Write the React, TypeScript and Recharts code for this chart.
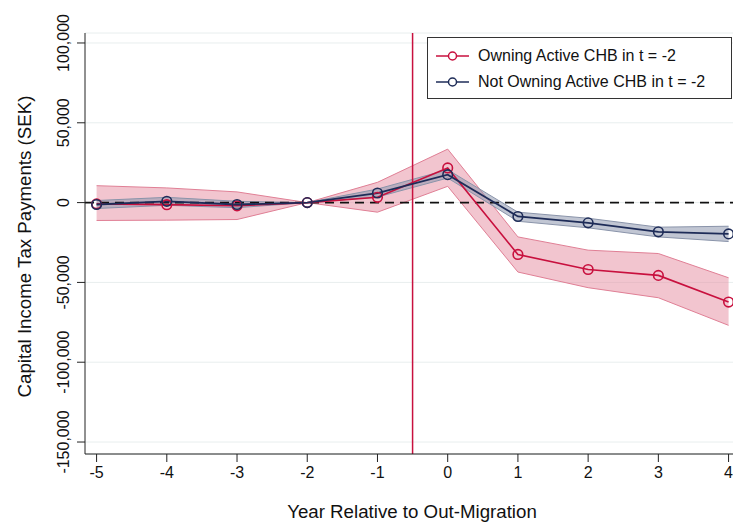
import React from 'react';
import { ComposedChart, Area, Line, XAxis, YAxis, CartesianGrid, ReferenceLine, Label } from 'recharts';

const years = [-5, -4, -3, -2, -1, 0, 1, 2, 3, 4];
const ownMean = [-800, -1300, -2000, 0, 3300, 21700, -32500, -41900, -45600, -62300];
const ownLo = [-11200, -11000, -10600, 0, -6000, 10200, -43500, -53300, -59600, -76900];
const ownHi = [10600, 9200, 6700, 0, 12700, 33500, -21500, -29800, -31900, -47100];
const notMean = [-1200, 800, -1200, 0, 6000, 17500, -8700, -12700, -18300, -19600];
const notLo = [-3700, -1700, -3200, 0, 3500, 15400, -11700, -15800, -21500, -24400];
const notHi = [1300, 3300, 800, 0, 8500, 20600, -6000, -9800, -15400, -14800];
const yTicks = [-150000, -100000, -50000, 0, 50000, 100000];
const xTicks = [-5, -4, -3, -2, -1, 0, 1, 2, 3, 4];
const seriesNames = ['Owning Active CHB in t = -2', 'Not Owning Active CHB in t = -2'];

const RED = '#c8103e';
const NAVY = '#1e2c58';
const FONT = '"Liberation Sans", Arial, sans-serif';

const data = years.map((y, i) => ({
  year: y,
  own: ownMean[i],
  ownBand: [ownLo[i], ownHi[i]],
  not: notMean[i],
  notBand: [notLo[i], notHi[i]],
}));

const YTick = (props: any) => {
  const { x, y, payload } = props;
  const cx = x - 11.5;
  return (
    <text
      x={cx}
      y={y}
      transform={`rotate(-90, ${cx}, ${y})`}
      textAnchor="middle"
      dominantBaseline="central"
      fontSize={16}
      fontFamily={FONT}
      fill="#111"
    >
      {Number(payload.value).toLocaleString('en-US')}
    </text>
  );
};

const XTick = (props: any) => {
  const { x, y, payload } = props;
  return (
    <text x={x} y={y + 8} textAnchor="middle" dominantBaseline="central" fontSize={16} fontFamily={FONT} fill="#111">
      {payload.value}
    </text>
  );
};

const circleDot = (color: string) => (props: any) => {
  const { cx, cy, index } = props;
  return <circle key={index} cx={cx} cy={cy} r={4.8} fill="none" stroke={color} strokeWidth={1.6} />;
};

export default function App() {
  return (
    <div style={{ position: 'absolute', left: 0, top: 0, width: 733, height: 522, background: '#fff' }}>
      <ComposedChart width={733} height={522} data={data} margin={{ top: 33, right: 0, bottom: 0, left: 0 }}>
        <CartesianGrid vertical={false} stroke="#e8eeee" strokeWidth={1} />
        <XAxis
          dataKey="year"
          type="number"
          domain={[-5.165, 4.063]}
          ticks={xTicks}
          height={68}
          tickSize={8}
          tickLine={{ stroke: '#222' }}
          axisLine={{ stroke: '#222' }}
          tick={<XTick />}
          allowDataOverflow
        >
          <Label
            content={(p: any) => {
              const vb = p.viewBox;
              return (
                <text x={vb.x + vb.width / 2 + 3} y={vb.y + 57} textAnchor="middle" dominantBaseline="central" fontSize={18.7} fontFamily={FONT} fill="#111">
                  Year Relative to Out-Migration
                </text>
              );
            }}
          />
        </XAxis>
        <YAxis
          type="number"
          domain={[-157500, 106250]}
          ticks={yTicks}
          width={85}
          tickSize={8}
          tickLine={{ stroke: '#222' }}
          axisLine={{ stroke: '#222' }}
          tick={<YTick />}
          allowDataOverflow
        >
          <Label
            content={(p: any) => {
              const vb = p.viewBox;
              const cx = 24;
              const cy = vb.y + vb.height / 2 + 3;
              return (
                <text x={cx} y={cy} transform={`rotate(-90, ${cx}, ${cy})`} textAnchor="middle" dominantBaseline="central" fontSize={18.7} fontFamily={FONT} fill="#111">
                  Capital Income Tax Payments (SEK)
                </text>
              );
            }}
          />
        </YAxis>
        <Area
          dataKey="ownBand"
          type="linear"
          fill="#e58ca0"
          fillOpacity={0.5}
          stroke="#e07f95"
          strokeWidth={1}
          isAnimationActive={false}
          activeDot={false}
        />
        <Area
          dataKey="notBand"
          type="linear"
          fill="#8e98ae"
          fillOpacity={0.55}
          stroke="#8a94aa"
          strokeWidth={1}
          isAnimationActive={false}
          activeDot={false}
        />
        <ReferenceLine y={0} stroke="#111" strokeWidth={1.6} strokeDasharray="9 6" />
        <ReferenceLine x={-0.5} stroke={RED} strokeWidth={1.5} />
        <Line
          dataKey="own"
          type="linear"
          stroke={RED}
          strokeWidth={1.6}
          dot={circleDot(RED)}
          activeDot={false}
          isAnimationActive={false}
        />
        <Line
          dataKey="not"
          type="linear"
          stroke={NAVY}
          strokeWidth={1.8}
          dot={circleDot(NAVY)}
          activeDot={false}
          isAnimationActive={false}
        />
      </ComposedChart>
      <div
        style={{
          position: 'absolute',
          left: 427,
          top: 37,
          width: 303,
          height: 60,
          border: '1px solid #333',
          background: '#fff',
          fontFamily: FONT,
          fontSize: 16,
          color: '#111',
        }}
      >
        {[RED, NAVY].map((c, i) => (
          <div key={i} style={{ position: 'absolute', left: 0, top: i === 0 ? 7 : 33, height: 22, display: 'flex', alignItems: 'center' }}>
            <svg width={50} height={22} style={{ display: 'block' }}>
              <line x1={8} y1={11} x2={41} y2={11} stroke={c} strokeWidth={1.6} />
              <circle cx={24.5} cy={11} r={4} fill="#fff" stroke={c} strokeWidth={1.5} />
            </svg>
            <span style={{ whiteSpace: 'nowrap', lineHeight: '22px' }}>{seriesNames[i]}</span>
          </div>
        ))}
      </div>
    </div>
  );
}
